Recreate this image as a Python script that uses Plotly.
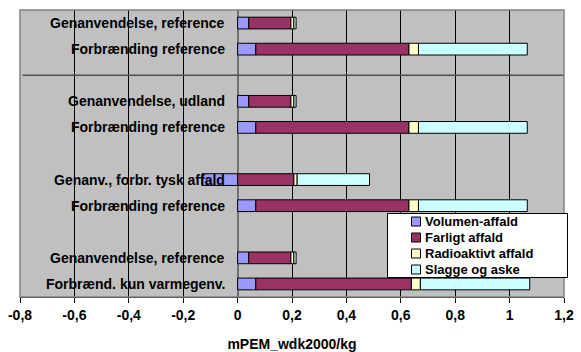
import plotly.graph_objects as go

labels = ["Genanvendelse, reference", "Forbrænding reference", "Genanvendelse, udland",
          "Forbrænding reference", "Genanv., forbr. tysk affald", "Forbrænding reference",
          "Genanvendelse, reference", "Forbrænd. kun varmegenv."]
slots = [0, 1, 3, 4, 6, 7, 9, 10]
separator_slots = [2]

volumen = [0.041, 0.067, 0.041, 0.067, -0.131, 0.067, 0.041, 0.067]
farligt = [0.155, 0.563, 0.155, 0.563, 0.207, 0.563, 0.155, 0.572]
radio = [0.011, 0.035, 0.011, 0.035, 0.012, 0.035, 0.011, 0.033]
slagge = [0.008, 0.400, 0.008, 0.400, 0.266, 0.400, 0.008, 0.402]

series = [
    ("Volumen-affald", volumen, "#9999FF"),
    ("Farligt affald", farligt, "#993366"),
    ("Radioaktivt affald", radio, "#FFFFCC"),
    ("Slagge og aske", slagge, "#CCFFFF"),
]

tick_vals = [-0.8, -0.6, -0.4, -0.2, 0, 0.2, 0.4, 0.6, 0.8, 1, 1.2]
tick_text = ["-0,8", "-0,6", "-0,4", "-0,2", "0", "0,2", "0,4", "0,6", "0,8", "1", "1,2"]

FONT = "Liberation Sans, Arial, sans-serif"
W, H = 581, 352
ML, MR, MT, MB = 20, 17, 10, 55
PW, PH = W - ML - MR, H - MT - MB


def px_x(p):
    return (p - ML) / PW


def px_y(p):
    return 1 - (p - MT) / PH


fig = go.Figure()
for name, vals, col in series:
    fig.add_trace(go.Bar(
        x=vals, y=slots, name=name, orientation="h", width=0.45,
        marker=dict(color=col, line=dict(color="black", width=1)),
        showlegend=False,
    ))

annotations = []
for lab, s in zip(labels, slots):
    annotations.append(dict(
        x=0, y=s, xref="x", yref="y", text=lab, showarrow=False,
        xanchor="right", yanchor="middle", xshift=-11,
        font=dict(family=FONT, size=14, color="black", weight="bold"),
    ))

shapes = []
for s in separator_slots:
    shapes.append(dict(type="line", xref="x", yref="y", x0=-0.79, x1=1.2, y0=s, y1=s,
                       line=dict(color="#505050", width=1.5), layer="above"))
shapes.append(dict(type="rect", xref="paper", yref="paper", x0=0, x1=1, y0=0, y1=1,
                   line=dict(color="#808080", width=1.5), layer="above"))

# manual legend box
shapes.append(dict(type="rect", xref="paper", yref="paper",
                   x0=px_x(387.5), x1=px_x(567.5), y0=px_y(277.5), y1=px_y(213.5),
                   fillcolor="white", line=dict(color="black", width=1), layer="above"))
item_y = [221.5, 237.5, 253.5, 269.5]
for (name, vals, col), yc in zip(series, item_y):
    shapes.append(dict(type="rect", xref="paper", yref="paper",
                       x0=px_x(411.5), x1=px_x(420.5), y0=px_y(yc + 4.5), y1=px_y(yc - 4.5),
                       fillcolor=col, line=dict(color="black", width=1), layer="above"))
    annotations.append(dict(
        x=px_x(424), y=px_y(yc), xref="paper", yref="paper", text=name, showarrow=False,
        xanchor="left", yanchor="middle", borderpad=0,
        font=dict(family=FONT, size=13, color="black", weight="bold"),
    ))

fig.update_layout(
    width=W, height=H,
    margin=dict(l=ML, r=MR, t=MT, b=MB, autoexpand=False),
    paper_bgcolor="white", plot_bgcolor="#C0C0C0",
    barmode="relative",
    font=dict(family=FONT, size=14, color="black", weight="bold"),
    showlegend=False,
    annotations=annotations,
    shapes=shapes,
    xaxis=dict(
        range=[-0.8, 1.2], tickvals=tick_vals, ticktext=tick_text,
        showgrid=True, gridcolor="black", gridwidth=1,
        zeroline=True, zerolinecolor="#707070", zerolinewidth=2,
        showline=True, linecolor="black", linewidth=1,
        ticks="outside", ticklen=5, tickcolor="black",
        ticklabelstandoff=0, automargin=False,
        tickfont=dict(family=FONT, size=14, color="black", weight="bold"),
        title=dict(text="mPEM_wdk2000/kg", standoff=21,
                   font=dict(family=FONT, size=14, color="black", weight="bold")),
        fixedrange=True,
    ),
    yaxis=dict(
        range=[10.5, -0.5], showticklabels=False, showgrid=False, zeroline=False,
        ticks="", fixedrange=True, automargin=False,
    ),
)

fig.write_html("out.html")
